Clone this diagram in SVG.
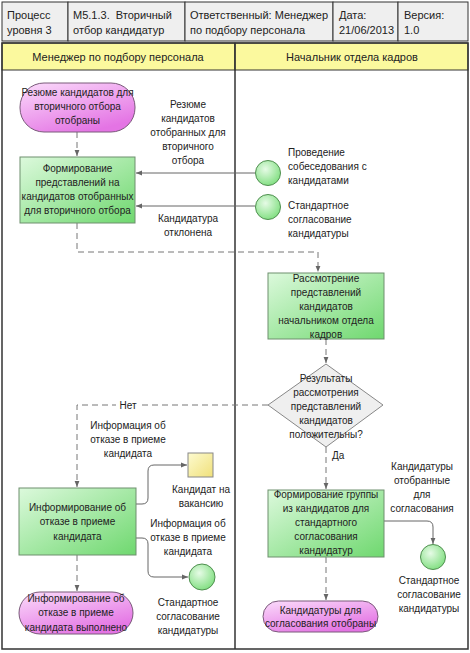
<svg xmlns="http://www.w3.org/2000/svg" width="470" height="653" viewBox="0 0 470 653">
<defs>
<linearGradient id="gGreen" x1="0" y1="0" x2="1" y2="1">
<stop offset="0" stop-color="#dcf9dc"/><stop offset="1" stop-color="#6fd86f"/>
</linearGradient>
<linearGradient id="gPink" x1="0" y1="0" x2="0.6" y2="1">
<stop offset="0" stop-color="#fbdcfb"/><stop offset="1" stop-color="#e474e4"/>
</linearGradient>
<radialGradient id="gCircle" cx="0.4" cy="0.35" r="0.7">
<stop offset="0" stop-color="#e6fbe6"/><stop offset="1" stop-color="#7ede7e"/>
</radialGradient>
<linearGradient id="gYellow" x1="0" y1="0" x2="1" y2="1">
<stop offset="0" stop-color="#fdfbd0"/><stop offset="1" stop-color="#f0e07a"/>
</linearGradient>
<marker id="ah" viewBox="0 0 10 10" refX="10" refY="5" markerWidth="6" markerHeight="6" orient="auto">
<path d="M0,1 L10,5 L0,9 z" fill="#666"/>
</marker>
<style>
text{font-family:"Liberation Sans",Arial,sans-serif;font-size:10px;fill:#222}
.h{font-size:11px}
.c{text-anchor:middle}
.cell{fill:#efefef;stroke:#333;stroke-width:1}
.lane{fill:#fbf99e;stroke:#333;stroke-width:1}
.frame{fill:none;stroke:#333;stroke-width:1.5}
.proc{fill:url(#gGreen);stroke:#6e8f6e;stroke-width:1}
.term{fill:url(#gPink);stroke:#7a5a7a;stroke-width:1}
.ev{fill:url(#gCircle);stroke:#4f8f4f;stroke-width:1}
.doc{fill:url(#gYellow);stroke:#888;stroke-width:1}
.dec{fill:#efefef;stroke:#888;stroke-width:1}
.solid{fill:none;stroke:#666;stroke-width:1}
.dash{fill:none;stroke:#777;stroke-width:1;stroke-dasharray:6,4}
</style>
</defs>
<rect x="0" y="0" width="470" height="653" fill="#ffffff"/>

<g id="header">
<rect class="cell" x="2" y="2" width="66" height="39"/>
<rect class="cell" x="68" y="2" width="117" height="39"/>
<rect class="cell" x="185" y="2" width="148" height="39"/>
<rect class="cell" x="333" y="2" width="65" height="39"/>
<rect class="cell" x="398" y="2" width="70" height="39"/>
<text class="h" x="7" y="19">Процесс</text><text class="h" x="7" y="34">уровня 3</text>
<text class="h" x="73" y="19">М5.1.3.&#160; Вторичный</text><text class="h" x="73" y="34">отбор кандидатур</text>
<text class="h" x="190" y="19">Ответственный: Менеджер</text><text class="h" x="190" y="34">по подбору персонала</text>
<text class="h" x="339" y="19">Дата:</text><text class="h" x="339" y="34">21/06/2013</text>
<text class="h" x="404" y="19">Версия:</text><text class="h" x="404" y="34">1.0</text>
</g>

<g id="lanes">
<rect class="lane" x="2" y="43" width="233" height="27"/>
<rect class="lane" x="235" y="43" width="233" height="27"/>
<text class="h c" x="118" y="61">Менеджер по подбору персонала</text>
<text class="h c" x="352" y="61">Начальник отдела кадров</text>
<rect class="frame" x="2" y="43" width="466" height="606"/>
<line x1="235" y1="43" x2="235" y2="649" stroke="#333" stroke-width="1.5"/>
</g>

<g id="connectors">
<line class="dash" x1="77" y1="132" x2="77" y2="156" marker-end="url(#ah)"/>
<line class="solid" x1="255" y1="173" x2="136" y2="173" marker-end="url(#ah)"/>
<line class="solid" x1="255" y1="206" x2="136" y2="206" marker-end="url(#ah)"/>
<path class="dash" d="M77,223 V252 H318 V272" marker-end="url(#ah)"/>
<line class="dash" x1="326" y1="339" x2="326" y2="363" marker-end="url(#ah)"/>
<path class="dash" d="M268,405 H77 V487" marker-end="url(#ah)"/>
<line class="dash" x1="326" y1="447" x2="326" y2="489" marker-end="url(#ah)"/>
<line class="dash" x1="77" y1="555" x2="77" y2="591" marker-end="url(#ah)"/>
<path class="solid" d="M136,504 H142 Q148,504 148,498 V471 Q148,465 154,465 H187" marker-end="url(#ah)"/>
<path class="solid" d="M136,538 H142 Q148,538 148,544 V571 Q148,577 154,577 H188" marker-end="url(#ah)"/>
<path class="solid" d="M384,521 H427 Q433,521 433,527 V544" marker-end="url(#ah)"/>
<line class="dash" x1="326" y1="557" x2="326" y2="600" marker-end="url(#ah)"/>
<rect x="116" y="399" width="24" height="12" fill="#ffffff"/>
<text class="c" x="128" y="409">Нет</text>
<text x="332" y="459">Да</text>
<text class="c" x="188"><tspan x="188" y="108">Резюме</tspan><tspan x="188" y="122">кандидатов</tspan><tspan x="188" y="136">отобранных для</tspan><tspan x="188" y="150">вторичного</tspan><tspan x="188" y="164">отбора</tspan></text>
<text class="c"><tspan x="188" y="222">Кандидатура</tspan><tspan x="188" y="236">отклонена</tspan></text>
<text class="c"><tspan x="128" y="429">Информация об</tspan><tspan x="128" y="443">отказе в приеме</tspan><tspan x="128" y="457">кандидата</tspan></text>
<text class="c"><tspan x="188" y="527">Информация об</tspan><tspan x="188" y="541">отказе в приеме</tspan><tspan x="188" y="555">кандидата</tspan></text>
<text class="c"><tspan x="422" y="470">Кандидатуры</tspan><tspan x="422" y="484">отобранные</tspan><tspan x="422" y="498">для</tspan><tspan x="422" y="512">согласования</tspan></text>
</g>

<g id="n_start">
<rect class="term" x="20" y="83" width="115" height="49" rx="24" ry="24"/>
<text class="c"><tspan x="77.5" y="96">Резюме кандидатов для</tspan><tspan x="77.5" y="110">вторичного отбора</tspan><tspan x="77.5" y="124">отобраны</tspan></text>
</g>

<g id="n_form">
<rect class="proc" x="20" y="157" width="115" height="66"/>
<text class="c"><tspan x="77.5" y="172">Формирование</tspan><tspan x="77.5" y="186">представлений на</tspan><tspan x="77.5" y="200">кандидатов отобранных</tspan><tspan x="77.5" y="214">для вторичного отбора</tspan></text>
</g>

<g id="n_ev1">
<circle class="ev" cx="268" cy="173" r="12.5"/>
<text><tspan x="288" y="156">Проведение</tspan><tspan x="288" y="170">собеседования с</tspan><tspan x="288" y="184">кандидатами</tspan></text>
</g>

<g id="n_ev2">
<circle class="ev" cx="268" cy="207" r="12.5"/>
<text><tspan x="288" y="209">Стандартное</tspan><tspan x="288" y="223">согласование</tspan><tspan x="288" y="237">кандидатуры</tspan></text>
</g>

<g id="n_review">
<rect class="proc" x="268" y="273" width="116" height="66"/>
<text class="c"><tspan x="326" y="282">Рассмотрение</tspan><tspan x="326" y="296">представлений</tspan><tspan x="326" y="310">кандидатов</tspan><tspan x="326" y="324">начальником отдела</tspan><tspan x="326" y="338">кадров</tspan></text>
</g>

<g id="n_decision">
<polygon class="dec" points="326,364 383,405 326,447 268,405"/>
<text class="c"><tspan x="326" y="382">Результаты</tspan><tspan x="326" y="396">рассмотрения</tspan><tspan x="326" y="410">представлений</tspan><tspan x="326" y="424">кандидатов</tspan><tspan x="326" y="438">положительны?</tspan></text>
</g>

<g id="n_inform">
<rect class="proc" x="19" y="488" width="117" height="67"/>
<text class="c"><tspan x="77.5" y="511">Информирование об</tspan><tspan x="77.5" y="525">отказе в приеме</tspan><tspan x="77.5" y="540">кандидата</tspan></text>
</g>

<g id="n_doc">
<rect class="doc" x="188" y="453" width="25" height="24"/>
<text class="c"><tspan x="201" y="493">Кандидат на</tspan><tspan x="201" y="507">вакансию</tspan></text>
</g>

<g id="n_ev3">
<circle class="ev" cx="202" cy="577" r="13"/>
<text class="c"><tspan x="188" y="606">Стандартное</tspan><tspan x="188" y="620">согласование</tspan><tspan x="188" y="634">кандидатуры</tspan></text>
</g>

<g id="n_end1">
<rect class="term" x="19" y="592" width="114" height="42" rx="21" ry="21"/>
<text class="c"><tspan x="76" y="602">Информирование об</tspan><tspan x="76" y="616">отказе в приеме</tspan><tspan x="76" y="631">кандидата выполнено</tspan></text>
</g>

<g id="n_group">
<rect class="proc" x="268" y="490" width="116" height="67"/>
<text class="c"><tspan x="326" y="498">Формирование группы</tspan><tspan x="326" y="512">из кандидатов для</tspan><tspan x="326" y="526">стандартного</tspan><tspan x="326" y="540">согласования</tspan><tspan x="326" y="554">кандидатур</tspan></text>
</g>

<g id="n_ev4">
<circle class="ev" cx="433" cy="557" r="12.5"/>
<text class="c"><tspan x="429" y="584">Стандартное</tspan><tspan x="429" y="598">согласование</tspan><tspan x="429" y="612">кандидатуры</tspan></text>
</g>

<g id="n_end2">
<rect class="term" x="263" y="601" width="115" height="31" rx="15.5" ry="15.5"/>
<text class="c"><tspan x="320.5" y="614">Кандидатуры для</tspan><tspan x="320.5" y="627">согласования отобраны</tspan></text>
</g>
</svg>
